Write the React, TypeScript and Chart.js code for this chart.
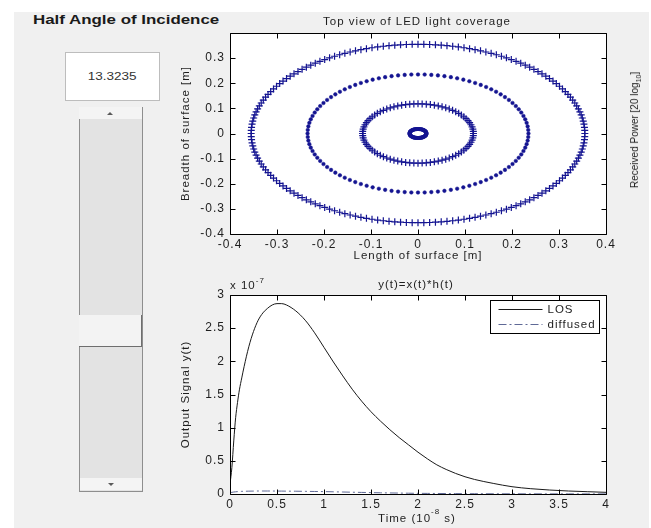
import React, { useEffect, useRef } from 'react';
import { Chart, registerables } from 'chart.js';

Chart.register(...registerables);

const FONT = '"Liberation Sans", Arial, Helvetica, sans-serif';
const INK = '#1e1e1e';
const MARKER = 'rgb(20,20,145)';
const DIFFUSED = 'rgb(95,105,150)';

// ---- Top view of LED light coverage ----
const ringRadii = [0.355, 0.235, 0.118, 0.018]; // metres
const ringPointCounts = [180, 104, 84, 60];
const coverageTicks = [-0.4, -0.3, -0.2, -0.1, 0, 0.1, 0.2, 0.3, 0.4];

// ---- y(t) = x(t) * h(t) ----  (time in 1e-8 s, signal in 1e-7)
const timeValues = [
  0, 0.02, 0.04, 0.06, 0.08, 0.1, 0.125, 0.15, 0.2, 0.25, 0.3, 0.35, 0.4, 0.45, 0.5, 0.55, 0.6,
  0.7, 0.8, 0.9, 1.0, 1.1, 1.2, 1.3, 1.4, 1.5, 1.6, 1.7, 1.8, 1.9, 2.0, 2.1, 2.2, 2.3, 2.4, 2.5, 2.6,
  2.8, 3.0, 3.2, 3.4, 3.6, 3.8, 4.0,
];
const losValues = [
  0.15, 0.4, 0.8, 1.15, 1.38, 1.57, 1.75, 1.92, 2.22, 2.45, 2.62, 2.73, 2.8, 2.85, 2.87, 2.87, 2.85,
  2.76, 2.62, 2.43, 2.21, 1.99, 1.78, 1.58, 1.4, 1.24, 1.1, 0.97, 0.85, 0.74, 0.63, 0.53, 0.44, 0.37, 0.31, 0.26, 0.22,
  0.16, 0.11, 0.08, 0.06, 0.045, 0.035, 0.025,
];
const diffusedValues = [
  0.02, 0.025, 0.03, 0.033, 0.036, 0.038, 0.04, 0.041, 0.043, 0.044, 0.045, 0.045, 0.045, 0.045, 0.044, 0.044, 0.043,
  0.042, 0.04, 0.038, 0.036, 0.033, 0.03, 0.027, 0.024, 0.021, 0.018, 0.016, 0.014, 0.012, 0.01, 0.009, 0.008, 0.007, 0.006, 0.005, 0.0045,
  0.0035, 0.003, 0.0025, 0.002, 0.0018, 0.0015, 0.0012,
];
const timeTicks = [0, 0.5, 1, 1.5, 2, 2.5, 3, 3.5, 4];
const signalTicks = [0, 0.5, 1, 1.5, 2, 2.5, 3];
const seriesNames = ['LOS', 'diffused'];
const signalExponent = '-7';
const timeExponent = '-8';
const halfAngleValue = '13.3235';

const TICK_SIZE = 12;
const LABEL_SIZE = 11.5;

function ringPoints(r: number, n: number) {
  const pts: { x: number; y: number }[] = [];
  for (let i = 0; i < n; i++) {
    const a = (2 * Math.PI * i) / n;
    pts.push({ x: r * Math.cos(a), y: r * Math.sin(a) });
  }
  return pts;
}

function fmt(v: number) {
  return String(Math.round(v * 100) / 100);
}

function axis(min: number, max: number, values: number[], pad: number, hidden: number[] = []) {
  return {
    type: 'linear' as const,
    min,
    max,
    afterBuildTicks: (s: any) => {
      s.ticks = values.map((v) => ({ value: v }));
    },
    ticks: {
      autoSkip: false,
      maxRotation: 0,
      minRotation: 0,
      padding: pad,
      color: INK,
      font: { family: FONT, size: TICK_SIZE },
      callback: (v: any) => (hidden.includes(Number(v)) ? '' : fmt(Number(v))),
    },
    grid: { display: false, drawTicks: false },
    border: { display: false },
  };
}

function paintArea(chart: any) {
  const { ctx, chartArea: a } = chart;
  ctx.save();
  ctx.fillStyle = '#ffffff';
  ctx.fillRect(a.left, a.top, a.right - a.left, a.bottom - a.top);
  ctx.restore();
  ctx.letterSpacing = '1px';
}

function drawFrame(chart: any) {
  const { ctx, chartArea: a, scales } = chart;
  const L = 5;
  const left = Math.round(a.left) + 0.5;
  const right = Math.round(a.right) + 0.5;
  const top = Math.round(a.top) + 0.5;
  const bottom = Math.round(a.bottom) + 0.5;
  ctx.save();
  ctx.strokeStyle = '#000';
  ctx.lineWidth = 1;
  ctx.setLineDash([]);
  ctx.beginPath();
  ctx.rect(left, top, right - left, bottom - top);
  scales.x.ticks.forEach((t: any) => {
    const px = Math.round(scales.x.getPixelForValue(t.value)) + 0.5;
    ctx.moveTo(px, bottom);
    ctx.lineTo(px, bottom - L);
    ctx.moveTo(px, top);
    ctx.lineTo(px, top + L);
  });
  scales.y.ticks.forEach((t: any) => {
    const py = Math.round(scales.y.getPixelForValue(t.value)) + 0.5;
    ctx.moveTo(left, py);
    ctx.lineTo(left + L, py);
    ctx.moveTo(right, py);
    ctx.lineTo(right - L, py);
  });
  ctx.stroke();
  ctx.restore();
}

function drawRich(ctx: any, parts: { text: string; size: number; dy: number }[], x: number, y: number, align: 'left' | 'center') {
  let total = 0;
  const widths = parts.map((p) => {
    ctx.font = `${p.size}px ${FONT}`;
    const w = ctx.measureText(p.text).width;
    total += w;
    return w;
  });
  let cx = align === 'center' ? x - total / 2 : x;
  ctx.textAlign = 'left';
  parts.forEach((p, i) => {
    ctx.font = `${p.size}px ${FONT}`;
    ctx.fillText(p.text, cx, y + p.dy);
    cx += widths[i];
  });
}

const topDecor = {
  id: 'topDecor',
  beforeDraw(chart: any) {
    paintArea(chart);
  },
  afterDraw(chart: any) {
    drawFrame(chart);
    const { ctx, chartArea: a } = chart;
    ctx.save();
    ctx.letterSpacing = '1px';
    ctx.fillStyle = INK;
    ctx.font = `${LABEL_SIZE}px ${FONT}`;
    ctx.textAlign = 'center';
    ctx.textBaseline = 'middle';
    ctx.fillText('Top view of LED light coverage', (a.left + a.right) / 2 - 1, a.top - 11);
    ctx.restore();
    ctx.letterSpacing = '0px';
  },
};

const bottomDecor = {
  id: 'bottomDecor',
  beforeDraw(chart: any) {
    paintArea(chart);
  },
  afterDraw(chart: any) {
    drawFrame(chart);
    const { ctx, chartArea: a } = chart;
    const cx = (a.left + a.right) / 2;
    ctx.save();
    ctx.letterSpacing = '1px';
    ctx.fillStyle = INK;
    ctx.textBaseline = 'middle';
    ctx.font = `${LABEL_SIZE}px ${FONT}`;
    ctx.textAlign = 'center';
    ctx.fillText('y(t)=x(t)*h(t)', cx - 2, a.top - 10);
    drawRich(
      ctx,
      [
        { text: 'x 10', size: LABEL_SIZE, dy: 0 },
        { text: signalExponent, size: 8, dy: -5 },
      ],
      a.left,
      a.top - 9,
      'left'
    );
    drawRich(
      ctx,
      [
        { text: 'Time (10', size: LABEL_SIZE, dy: 0 },
        { text: timeExponent, size: 8, dy: -7 },
        { text: ' s)', size: LABEL_SIZE, dy: 0 },
      ],
      cx - 1,
      a.bottom + 25,
      'center'
    );
    // legend
    const bx = Math.round(a.right) - 116 + 0.5;
    const by = Math.round(a.top) + 5 + 0.5;
    const bw = 109;
    const bh = 33;
    ctx.fillStyle = '#ffffff';
    ctx.fillRect(bx, by, bw, bh);
    ctx.strokeStyle = '#000';
    ctx.lineWidth = 1;
    ctx.strokeRect(bx, by, bw, bh);
    const rows = [
      { name: seriesNames[0], color: '#1a1a1a', dash: [] as number[] },
      { name: seriesNames[1], color: DIFFUSED, dash: [8, 3, 2, 3] },
    ];
    rows.forEach((r, i) => {
      const ly = by + 9 + i * 15;
      ctx.beginPath();
      ctx.setLineDash(r.dash);
      ctx.strokeStyle = r.color;
      ctx.moveTo(bx + 8, ly);
      ctx.lineTo(bx + 52, ly);
      ctx.stroke();
      ctx.setLineDash([]);
      ctx.fillStyle = INK;
      ctx.font = `${LABEL_SIZE}px ${FONT}`;
      ctx.textAlign = 'left';
      ctx.fillText(r.name, bx + 57, ly);
    });
    ctx.restore();
    ctx.letterSpacing = '0px';
  },
};

function topConfig(): any {
  const styles = [
    { pointStyle: 'cross', pointRadius: 3.5, borderWidth: 1.2, backgroundColor: MARKER },
    { pointStyle: 'circle', pointRadius: 1.8, borderWidth: 0.5, backgroundColor: MARKER },
    { pointStyle: 'cross', pointRadius: 3.5, borderWidth: 1.2, backgroundColor: MARKER },
    { pointStyle: 'circle', pointRadius: 1.3, borderWidth: 1.5, backgroundColor: 'rgba(0,0,0,0)' },
  ];
  return {
    type: 'scatter',
    data: {
      datasets: ringRadii.map((r, i) => ({
        label: `ring ${i + 1}`,
        data: ringPoints(r, ringPointCounts[i]),
        borderColor: MARKER,
        showLine: false,
        ...styles[i],
      })),
    },
    options: {
      animation: false,
      responsive: false,
      devicePixelRatio: 1,
      events: [],
      layout: { padding: { left: 0, top: 23, right: 34, bottom: 0 } },
      plugins: { legend: { display: false }, tooltip: { enabled: false }, title: { display: false } },
      scales: {
        x: {
          ...axis(-0.4, 0.4, coverageTicks, 3),
          title: {
            display: true,
            text: 'Length of surface [m]',
            color: INK,
            font: { family: FONT, size: LABEL_SIZE },
            padding: { top: 0, bottom: 2 },
          },
          afterFit: (s: any) => {
            s.height = 31;
          },
        },
        y: {
          ...axis(-0.4, 0.4, coverageTicks, 5, [0.4]),
          title: {
            display: true,
            text: 'Breadth of surface [m]',
            color: INK,
            font: { family: FONT, size: LABEL_SIZE },
            padding: { top: 19, bottom: 0 },
          },
          afterFit: (s: any) => {
            s.width = 70;
          },
        },
      },
    },
    plugins: [topDecor],
  };
}

function bottomConfig(): any {
  return {
    type: 'scatter',
    data: {
      datasets: [
        {
          label: seriesNames[0],
          data: timeValues.map((t, i) => ({ x: t, y: losValues[i] })),
          showLine: true,
          borderColor: '#1a1a1a',
          borderWidth: 1,
          pointRadius: 0,
          cubicInterpolationMode: 'monotone',
        },
        {
          label: seriesNames[1],
          data: timeValues.map((t, i) => ({ x: t, y: diffusedValues[i] })),
          showLine: true,
          borderColor: DIFFUSED,
          borderWidth: 1,
          borderDash: [8, 3, 2, 3],
          pointRadius: 0,
          cubicInterpolationMode: 'monotone',
        },
      ],
    },
    options: {
      animation: false,
      responsive: false,
      devicePixelRatio: 1,
      events: [],
      layout: { padding: { left: 0, top: 30, right: 34, bottom: 0 } },
      plugins: { legend: { display: false }, tooltip: { enabled: false }, title: { display: false } },
      scales: {
        x: {
          ...axis(0, 4, timeTicks, 3),
          afterFit: (s: any) => {
            s.height = 34;
          },
        },
        y: {
          ...axis(0, 3, signalTicks, 5),
          title: {
            display: true,
            text: 'Output Signal y(t)',
            color: INK,
            font: { family: FONT, size: LABEL_SIZE },
            padding: { top: 19, bottom: 0 },
          },
          afterFit: (s: any) => {
            s.width = 70;
          },
        },
      },
    },
    plugins: [bottomDecor],
  };
}

const arrowUp: React.CSSProperties = {
  position: 'absolute',
  left: 28,
  top: 5,
  width: 0,
  height: 0,
  borderLeft: '3.5px solid transparent',
  borderRight: '3.5px solid transparent',
  borderBottom: '3px solid #5a5a5a',
};
const arrowDown: React.CSSProperties = {
  position: 'absolute',
  left: 28,
  top: 5,
  width: 0,
  height: 0,
  borderLeft: '3.5px solid transparent',
  borderRight: '3.5px solid transparent',
  borderTop: '3px solid #5a5a5a',
};

export default function App() {
  const topRef = useRef<HTMLCanvasElement>(null);
  const botRef = useRef<HTMLCanvasElement>(null);

  useEffect(() => {
    const c1 = new Chart(topRef.current as HTMLCanvasElement, topConfig());
    const c2 = new Chart(botRef.current as HTMLCanvasElement, bottomConfig());
    return () => {
      c1.destroy();
      c2.destroy();
    };
  }, []);

  return (
    <div
      style={{
        position: 'absolute',
        left: 0,
        top: 0,
        width: 651,
        height: 528,
        background: '#ffffff',
        overflow: 'hidden',
        fontFamily: FONT,
      }}
    >
      <div style={{ position: 'absolute', left: 14, top: 12, width: 635, height: 516, background: '#f0f0f0' }} />
      <div
        style={{
          position: 'absolute',
          left: 33,
          top: 12,
          lineHeight: '15px',
          fontSize: 13,
          fontWeight: 'bold',
          color: '#1a1a1a',
          whiteSpace: 'nowrap',
          transform: 'scaleX(1.3)',
          transformOrigin: '0 0',
        }}
      >
        Half Angle of Incidence
      </div>
      <div
        style={{
          position: 'absolute',
          left: 65,
          top: 52,
          width: 95,
          height: 49,
          boxSizing: 'border-box',
          background: '#ffffff',
          border: '1px solid #bdbdbd',
          display: 'flex',
          alignItems: 'center',
          justifyContent: 'center',
        }}
      >
        <span style={{ fontSize: 10, color: '#333', display: 'inline-block', transform: 'scaleX(1.35)' }}>
          {halfAngleValue}
        </span>
      </div>
      {/* slider */}
      <div
        style={{
          position: 'absolute',
          left: 79,
          top: 107,
          width: 64,
          height: 385,
          boxSizing: 'border-box',
          background: '#e3e3e3',
          borderLeft: '1px solid #8e8e8e',
          borderRight: '1px solid #8e8e8e',
          borderBottom: '1px solid #8e8e8e',
        }}
      />
      <div style={{ position: 'absolute', left: 79, top: 107, width: 63, height: 12, background: '#f4f4f4' }}>
        <div style={arrowUp} />
      </div>
      <div
        style={{
          position: 'absolute',
          left: 79,
          top: 315,
          width: 63,
          height: 32,
          boxSizing: 'border-box',
          background: '#f3f3f3',
          borderRight: '1px solid #6e6e6e',
          borderBottom: '1px solid #6e6e6e',
        }}
      />
      <div
        style={{
          position: 'absolute',
          left: 80,
          top: 478,
          width: 62,
          height: 12,
          background: '#f4f4f4',
        }}
      >
        <div style={arrowDown} />
      </div>
      <canvas ref={topRef} width={480} height={255} style={{ position: 'absolute', left: 160, top: 10 }} />
      <canvas ref={botRef} width={480} height={263} style={{ position: 'absolute', left: 160, top: 265 }} />
      <div
        style={{
          position: 'absolute',
          left: 637,
          top: 130,
          transform: 'translate(-50%, -50%) rotate(-90deg)',
          fontSize: 10,
          lineHeight: '12px',
          color: '#222',
          whiteSpace: 'nowrap',
        }}
      >
        Received Power [20 log<sub style={{ fontSize: 7 }}>10</sub>]
      </div>
    </div>
  );
}
